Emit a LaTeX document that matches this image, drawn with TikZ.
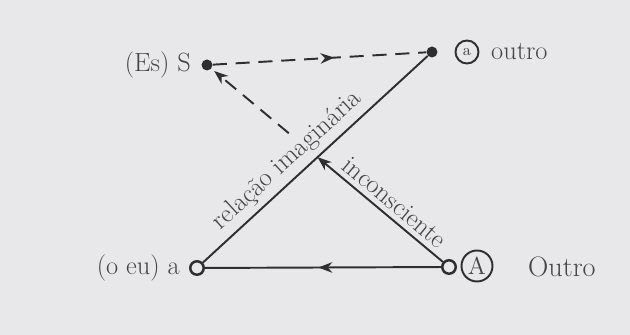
\documentclass[tikz,border=0pt]{standalone}
\usepackage{fontspec}
\usetikzlibrary{calc, arrows.meta, decorations.markings}

\begin{document}
\begin{tikzpicture}[
    dot/.style={circle, fill=lineColour, inner sep=0pt, minimum size=0.22cm},
    hole/.style={circle, draw=lineColour, line width=1.4pt, fill=paperColour, inner sep=0pt, minimum size=0.27cm},
    ring/.style={circle, draw=lineColour, line width=1.1pt, inner sep=0pt, text=textColour},
    lbl/.style={text=textColour, font=\fontsize{15}{17}\selectfont},
    link/.style={draw=lineColour, line width=1.1pt},
    midarrow/.style={postaction={decorate}, decoration={markings,
        mark=at position #1 with {\arrow{Stealth[length=8pt,width=6pt]}}}}
]
    \definecolor{paperColour}{HTML}{E8E8EA}
    \definecolor{lineColour}{HTML}{2E2E30}
    \definecolor{textColour}{HTML}{454547}

    % Paper
    \fill[paperColour] (0,0) rectangle (12.6,6.7);
    \useasboundingbox (0,0) rectangle (12.6,6.7);

    % Define the four corners of the schema
    \node[dot] (S) at (4.14,5.40) {};
    \node[dot] (ao) at (8.64,5.66) {};
    \node[hole] (a) at (3.94,1.34) {};
    \node[hole] (A) at (8.98,1.36) {};

    % Labels of the corners
    \node[lbl, anchor=east] (Slbl) at ([xshift=-0.08cm]S.west) {(Es) S};
    \node[ring, minimum size=0.46cm] (aoring) at (9.34,5.66) {\fontsize{9}{10}\selectfont a};
    \node[lbl, anchor=west] (aolbl) at (9.70,5.66) {outro};
    \node[lbl, anchor=east] (albl) at ([xshift=-0.06cm]a.west) {(o eu) a};
    \node[ring, minimum size=0.62cm] (Aring) at (9.54,1.38) {\fontsize{14}{16}\selectfont A};
    \node[lbl, anchor=west] (Albl) at (10.44,1.36) {\fontsize{16}{18}\selectfont Outro};

    % Crossing of the two diagonals
    \coordinate (X) at (intersection of A--S and a--ao);

    % Draw the connectors
    \draw[link] (a) -- (ao);
    \draw[link, midarrow=0.52] (A) -- (a);
    \draw[link, -{Stealth[length=8pt,width=6pt]}] (A) -- (X);
    \draw[link, dash pattern=on 8pt off 5pt, -{Stealth[length=8pt,width=6pt]}, shorten >=2pt] ($(X)!0.26!(S)$) -- (S);
    \draw[link, dash pattern=on 8pt off 5pt, midarrow=0.57] (S) -- (ao);

    % Labels along the diagonals
    \path (a) -- (ao) node[lbl, sloped, above, pos=0.43] (imag) {relação imaginária};
    \path (X) -- (A) node[lbl, sloped, above, pos=0.54] (incons) {inconsciente};

\end{tikzpicture}
\end{document}
